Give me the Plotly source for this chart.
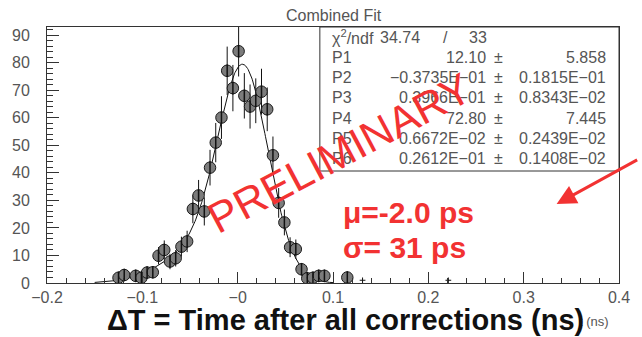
import numpy as np
import plotly.graph_objects as go

# ---------------- data ----------------
bin_centers = [-0.125, -0.119, -0.107, -0.101, -0.095, -0.089, -0.083, -0.077,
               -0.071, -0.065, -0.059, -0.053, -0.047, -0.041, -0.035, -0.029,
               -0.023, -0.017, -0.011, -0.005, 0.001, 0.007, 0.013, 0.019,
               0.025, 0.031, 0.037, 0.043, 0.049, 0.055, 0.061, 0.067,
               0.073, 0.079, 0.085, 0.091, 0.115]
counts = [1.9, 2.9, 2.6, 1.9, 3.8, 3.9, 9.9, 12.0,
          7.8, 9.0, 13.2, 15.1, 26.9, 31.8, 26.0, 41.9,
          51.0, 60.1, 77.1, 70.8, 84.2, 68.0, 64.1, 66.2,
          69.5, 63.1, 46.4, 29.1, 22.0, 13.0, 12.3, 5.0,
          1.7, 1.9, 2.6, 2.6, 2.0]
bin_half_width = 0.003

low_centers = [0.131, 0.221]
low_counts = [1.0, 1.0]

fit_names = ["P1", "P2", "P3", "P4", "P5", "P6"]
fit_params = [12.10, -0.03735, 0.03966, 72.80, 0.006672, 0.02612]
fit_value_text = ["12.10", "−0.3735E−01", "0.3966E−01", "72.80", "0.6672E−02", "0.2612E−01"]
fit_error_text = ["5.858", "0.1815E−01", "0.8343E−02", "7.445", "0.2439E−02", "0.1408E−02"]
chi2_text = "34.74"
ndf_text = "33"
fit_range = [-0.15, 0.10]

x_tick_vals = [-0.2, -0.1, 0.0, 0.1, 0.2, 0.3, 0.4]
x_tick_text = ["−0.2", "−0.1", "−0", "0.1", "0.2", "0.3", "0.4"]
y_tick_vals = [0, 10, 20, 30, 40, 50, 60, 70, 80, 90]

# ---------------- fit curve from the displayed parameters ----------------
p1, p2, p3, p4, p5, p6 = fit_params
xf = np.linspace(fit_range[0], fit_range[1], 400)
yf = p1 * np.exp(-0.5 * ((xf - p2) / p3) ** 2) + p4 * np.exp(-0.5 * ((xf - p5) / p6) ** 2)

# ---------------- geometry helpers (pixel -> paper) ----------------
W, H = 642, 337
L, R, T, B = 43, 630, 27, 283
def px(x):
    return (x - L) / (R - L)
def py(y):
    return (B - y) / (B - T)

GRAY = "#555555"
FONT = "Liberation Sans, Arial, Helvetica, sans-serif"
RED = "#f23232"

fig = go.Figure()

fig.add_trace(go.Scatter(
    x=xf, y=yf, mode="lines", line=dict(color="#111111", width=1),
    hoverinfo="skip", showlegend=False))

fig.add_trace(go.Scatter(
    x=bin_centers, y=counts, mode="markers",
    marker=dict(symbol="circle", size=11.5, color="#7c7c7c",
                line=dict(color="#1a1a1a", width=1)),
    error_y=dict(type="data", array=list(np.sqrt(counts)), color="#111111",
                 thickness=1, width=0),
    error_x=dict(type="constant", value=bin_half_width, color="#111111",
                 thickness=1, width=0),
    showlegend=False))

# central stripe of the hatched ROOT markers
fig.add_trace(go.Scatter(
    x=bin_centers, y=counts, mode="markers",
    marker=dict(symbol="line-ns", size=9, color="#111111",
                line=dict(color="#111111", width=1.5)),
    hoverinfo="skip", showlegend=False))

fig.add_trace(go.Scatter(
    x=low_centers, y=low_counts, mode="markers",
    marker=dict(size=1, color="rgba(0,0,0,0)"),
    error_y=dict(type="data", array=list(np.sqrt(low_counts)), color="#111111",
                 thickness=1, width=0),
    error_x=dict(type="constant", value=bin_half_width, color="#111111",
                 thickness=1, width=0),
    showlegend=False))

axis_common = dict(showline=True, linecolor="#333333", linewidth=1, mirror=True,
                   ticks="inside", tickcolor="#333333", showgrid=False, zeroline=False,
                   tickfont=dict(family=FONT, size=16, color=GRAY))

fig.update_xaxes(range=[-0.2, 0.4], tickmode="array", tickvals=x_tick_vals,
                 ticktext=x_tick_text, ticklen=11, ticklabelstandoff=0,
                 minor=dict(tickmode="linear", tick0=0, dtick=0.02, ticks="inside",
                            ticklen=5, tickcolor="#333333"),
                 **axis_common)
fig.update_yaxes(range=[0, 93], tickmode="array", tickvals=y_tick_vals, ticklen=12,
                 ticklabelstandoff=13,
                 minor=dict(tickmode="linear", tick0=0, dtick=2, ticks="inside",
                            ticklen=6, tickcolor="#333333"),
                 **axis_common)

shapes = [dict(type="rect", xref="paper", yref="paper",
               x0=px(323), x1=px(630), y0=py(171), y1=py(27),
               fillcolor="white", line=dict(color="#333333", width=1), layer="above")]

ann = []
def text(x, y, s, size=16, color=GRAY, xanchor="left", bold=False, family=FONT, angle=0):
    ann.append(dict(x=px(x), y=py(y), xref="paper", yref="paper", text=s,
                    showarrow=False, xanchor=xanchor, yanchor="middle",
                    textangle=angle,
                    font=dict(family=family, size=size, color=color,
                              weight="bold" if bold else "normal")))

# title
text(338, 15, "Combined Fit", xanchor="center")

# stats box
row0, pitch = 37, 20.3
text(333, row0, "χ<sup>2</sup>/ndf")
text(428, row0, chi2_text, xanchor="right")
text(452, row0, "/", xanchor="center")
text(497, row0, ndf_text, xanchor="right")
for k in range(6):
    yy = row0 + pitch * (k + 1)
    text(333, yy, fit_names[k])
    text(496, yy, fit_value_text[k], xanchor="right")
    text(506, yy, "±", xanchor="center")
    text(619, yy, fit_error_text[k], xanchor="right")

# small ROOT axis title (partly hidden)
text(622, 321, "t (ns)", size=13, xanchor="right")

# big bold axis title
text(349, 320, "ΔT = Time after all corrections (ns)", size=29, color="#111111",
     xanchor="center", bold=True)

# red result text
text(345, 212, "μ=-2.0 ps", size=30, color=RED, bold=True)
text(345, 247, "σ= 31 ps", size=30, color=RED, bold=True)

# PRELIMINARY watermark
text(343, 153, "PRELIMINARY", size=43, color=RED, xanchor="center", angle=-28)

# arrow
ann.append(dict(x=px(566), y=py(204), xref="paper", yref="paper", text="",
                showarrow=True, ax=82, ay=-45, arrowhead=2, arrowsize=1.3,
                arrowwidth=3, arrowcolor=RED))

fig.update_layout(width=W, height=H, margin=dict(l=L, r=W - R, t=T, b=H - B),
                  paper_bgcolor="white", plot_bgcolor="white",
                  shapes=shapes, annotations=ann, showlegend=False)

fig.write_html("out.html", config={"displayModeBar": False},
               post_script="document.body.style.margin='0px';document.body.style.overflow='hidden';")
